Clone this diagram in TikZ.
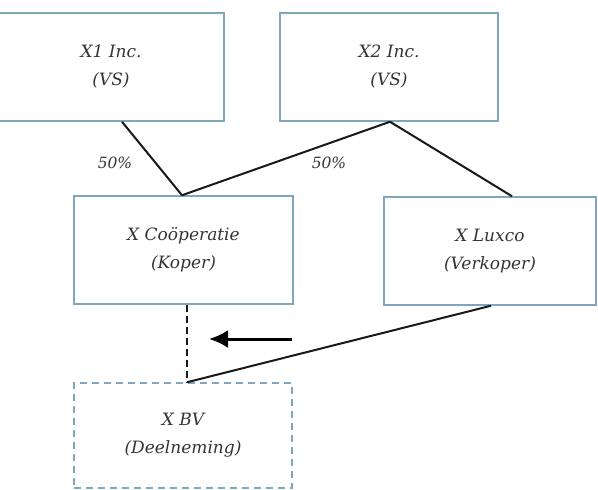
\documentclass[tikz,border=0pt]{standalone}
\usepackage{fontspec}
\setmainfont{DejaVu Serif}
\usepackage{xcolor}
\usepackage{tikz}
\usetikzlibrary{arrows.meta}
\definecolor{frame}{HTML}{7FA6BF}
\definecolor{ink}{HTML}{333333}

\begin{document}
\begin{tikzpicture}[
  x=1pt,y=-1pt,
  entity/.style={draw=frame,line width=1.5pt,minimum width=218pt,minimum height=108pt,align=center,
    font=\fontsize{17}{28}\selectfont\itshape,text=ink,inner sep=0pt},
  target/.style={entity,dash pattern=on 7pt off 5pt},
  link/.style={line width=2pt,draw=black!90},
  share/.style={font=\fontsize{15.5}{18}\selectfont\itshape,text=ink}
]
\useasboundingbox (0,0) rectangle (598,490);
\node[entity,minimum width=226pt] (x1) at (111,67) {X1 Inc.\\(VS)};
\node[entity] (x2) at (389,67) {X2 Inc.\\(VS)};
\node[entity,minimum width=219pt] (coop) at (183.5,250) {X Coöperatie\\(Koper)};
\node[entity,minimum width=212pt] (lux) at (490,251) {X Luxco\\(Verkoper)};
\node[target,minimum height=105pt] (bv) at (183,435.5) {X BV\\(Deelneming)};
\node[share] (p1) at (115,163) {50\%};
\node[share] (p2) at (329,163) {50\%};
\coordinate (arrS) at (292,339);
\coordinate (arrE) at (209,339);
% ownership lines
\draw[link] ([xshift=11pt]x1.south) -- ([xshift=-1.5pt]coop.north);
\draw[link] ([xshift=1pt]x2.south) -- ([xshift=-1.5pt]coop.north);
\draw[link] ([xshift=1pt]x2.south) -- ([xshift=22pt]lux.north);
\draw[link] ([xshift=1pt]lux.south) -- ([xshift=4pt]bv.north);
\draw[link,line width=2.6pt,dash pattern=on 7pt off 4pt] ([xshift=3.5pt]coop.south) -- ([xshift=4pt]bv.north);
% transfer
\draw[-{Latex[length=19pt,width=18pt]},line width=3pt] (arrS) -- (arrE);
\end{tikzpicture}
\end{document}
